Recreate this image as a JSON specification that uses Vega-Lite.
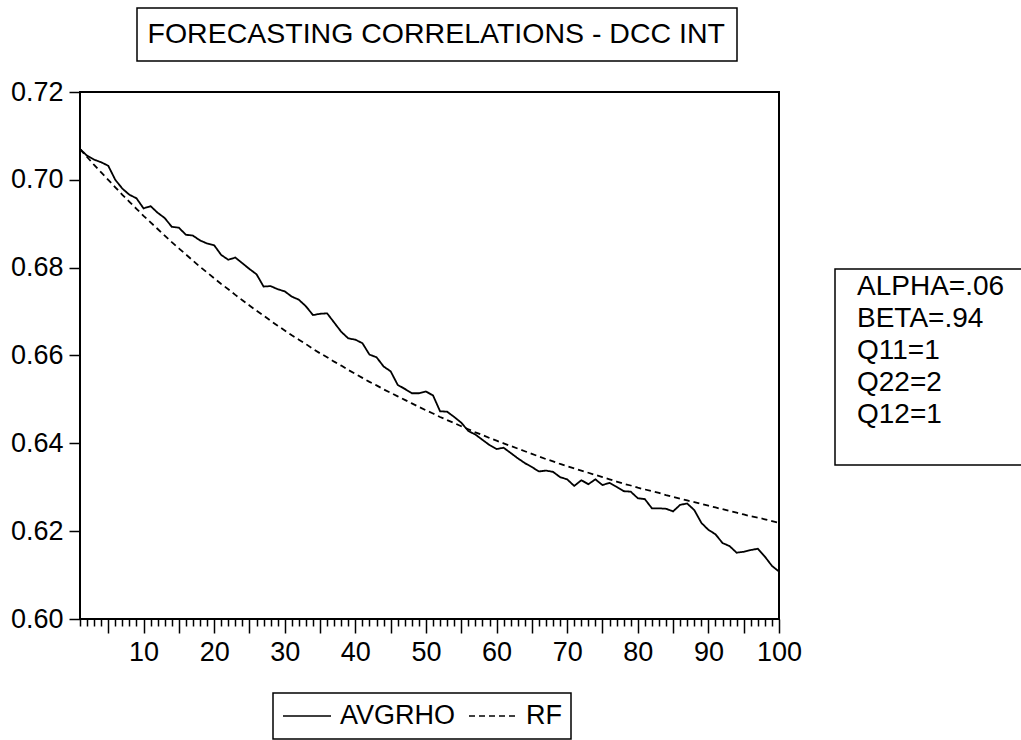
{
  "$schema": "https://vega.github.io/schema/vega-lite/v6.json",
  "width": 699,
  "height": 527,
  "autosize": "none",
  "padding": {"left": 80, "top": 92, "right": 242, "bottom": 121},
  "background": "white",
  "config": {
    "view": {"stroke": "black", "strokeWidth": 2},
    "axis": {"domain": false, "grid": false, "tickColor": "black", "labelColor": "black", "labelFont": "Liberation Sans", "labelFontSize": 27, "tickWidth": 1.5, "title": null, "labelFlush": false, "labelOverlap": false},
    "legend": {"labelFont": "Liberation Sans", "labelFontSize": 27, "strokeColor": "black", "strokeWidth": 1.5, "fillColor": "white", "title": null}
  },
  "layer": [
    {
      "data": {"values": [
        {"t":1,"AVGRHO":0.7070,"RF":0.7070},{"t":2,"AVGRHO":0.7055,"RF":0.7052},{"t":3,"AVGRHO":0.7046,"RF":0.7034},{"t":4,"AVGRHO":0.7040,"RF":0.7017},{"t":5,"AVGRHO":0.7032,"RF":0.7000},
        {"t":6,"AVGRHO":0.7000,"RF":0.6983},{"t":7,"AVGRHO":0.6980,"RF":0.6966},{"t":8,"AVGRHO":0.6966,"RF":0.6950},{"t":9,"AVGRHO":0.6958,"RF":0.6934},{"t":10,"AVGRHO":0.6935,"RF":0.6918},
        {"t":11,"AVGRHO":0.6940,"RF":0.6903},{"t":12,"AVGRHO":0.6925,"RF":0.6888},{"t":13,"AVGRHO":0.6913,"RF":0.6873},{"t":14,"AVGRHO":0.6893,"RF":0.6858},{"t":15,"AVGRHO":0.6891,"RF":0.6844},
        {"t":16,"AVGRHO":0.6875,"RF":0.6830},{"t":17,"AVGRHO":0.6873,"RF":0.6816},{"t":18,"AVGRHO":0.6862,"RF":0.6802},{"t":19,"AVGRHO":0.6855,"RF":0.6789},{"t":20,"AVGRHO":0.6851,"RF":0.6776},
        {"t":21,"AVGRHO":0.6829,"RF":0.6763},{"t":22,"AVGRHO":0.6818,"RF":0.6751},{"t":23,"AVGRHO":0.6823,"RF":0.6738},{"t":24,"AVGRHO":0.6810,"RF":0.6726},{"t":25,"AVGRHO":0.6797,"RF":0.6714},
        {"t":26,"AVGRHO":0.6785,"RF":0.6702},{"t":27,"AVGRHO":0.6757,"RF":0.6691},{"t":28,"AVGRHO":0.6758,"RF":0.6679},{"t":29,"AVGRHO":0.6751,"RF":0.6668},{"t":30,"AVGRHO":0.6746,"RF":0.6657},
        {"t":31,"AVGRHO":0.6734,"RF":0.6646},{"t":32,"AVGRHO":0.6727,"RF":0.6636},{"t":33,"AVGRHO":0.6712,"RF":0.6626},{"t":34,"AVGRHO":0.6692,"RF":0.6615},{"t":35,"AVGRHO":0.6695,"RF":0.6605},
        {"t":36,"AVGRHO":0.6696,"RF":0.6596},{"t":37,"AVGRHO":0.6675,"RF":0.6586},{"t":38,"AVGRHO":0.6654,"RF":0.6577},{"t":39,"AVGRHO":0.6639,"RF":0.6567},{"t":40,"AVGRHO":0.6636,"RF":0.6558},
        {"t":41,"AVGRHO":0.6628,"RF":0.6549},{"t":42,"AVGRHO":0.6602,"RF":0.6540},{"t":43,"AVGRHO":0.6596,"RF":0.6532},{"t":44,"AVGRHO":0.6575,"RF":0.6523},{"t":45,"AVGRHO":0.6564,"RF":0.6515},
        {"t":46,"AVGRHO":0.6533,"RF":0.6507},{"t":47,"AVGRHO":0.6524,"RF":0.6499},{"t":48,"AVGRHO":0.6514,"RF":0.6491},{"t":49,"AVGRHO":0.6514,"RF":0.6483},{"t":50,"AVGRHO":0.6518,"RF":0.6475},
        {"t":51,"AVGRHO":0.6509,"RF":0.6468},{"t":52,"AVGRHO":0.6473,"RF":0.6460},{"t":53,"AVGRHO":0.6472,"RF":0.6453},{"t":54,"AVGRHO":0.6460,"RF":0.6446},{"t":55,"AVGRHO":0.6447,"RF":0.6439},
        {"t":56,"AVGRHO":0.6428,"RF":0.6432},{"t":57,"AVGRHO":0.6420,"RF":0.6425},{"t":58,"AVGRHO":0.6408,"RF":0.6419},{"t":59,"AVGRHO":0.6396,"RF":0.6412},{"t":60,"AVGRHO":0.6387,"RF":0.6406},
        {"t":61,"AVGRHO":0.6390,"RF":0.6400},{"t":62,"AVGRHO":0.6378,"RF":0.6394},{"t":63,"AVGRHO":0.6366,"RF":0.6388},{"t":64,"AVGRHO":0.6355,"RF":0.6382},{"t":65,"AVGRHO":0.6346,"RF":0.6376},
        {"t":66,"AVGRHO":0.6336,"RF":0.6370},{"t":67,"AVGRHO":0.6338,"RF":0.6364},{"t":68,"AVGRHO":0.6335,"RF":0.6359},{"t":69,"AVGRHO":0.6323,"RF":0.6353},{"t":70,"AVGRHO":0.6318,"RF":0.6348},
        {"t":71,"AVGRHO":0.6303,"RF":0.6343},{"t":72,"AVGRHO":0.6316,"RF":0.6338},{"t":73,"AVGRHO":0.6307,"RF":0.6333},{"t":74,"AVGRHO":0.6318,"RF":0.6328},{"t":75,"AVGRHO":0.6305,"RF":0.6323},
        {"t":76,"AVGRHO":0.6310,"RF":0.6318},{"t":77,"AVGRHO":0.6301,"RF":0.6313},{"t":78,"AVGRHO":0.6291,"RF":0.6308},{"t":79,"AVGRHO":0.6290,"RF":0.6304},{"t":80,"AVGRHO":0.6275,"RF":0.6299},
        {"t":81,"AVGRHO":0.6273,"RF":0.6295},{"t":82,"AVGRHO":0.6252,"RF":0.6291},{"t":83,"AVGRHO":0.6252,"RF":0.6287},{"t":84,"AVGRHO":0.6251,"RF":0.6282},{"t":85,"AVGRHO":0.6245,"RF":0.6278},
        {"t":86,"AVGRHO":0.6260,"RF":0.6274},{"t":87,"AVGRHO":0.6263,"RF":0.6270},{"t":88,"AVGRHO":0.6248,"RF":0.6266},{"t":89,"AVGRHO":0.6219,"RF":0.6262},{"t":90,"AVGRHO":0.6203,"RF":0.6258},
        {"t":91,"AVGRHO":0.6193,"RF":0.6254},{"t":92,"AVGRHO":0.6173,"RF":0.6250},{"t":93,"AVGRHO":0.6166,"RF":0.6246},{"t":94,"AVGRHO":0.6151,"RF":0.6242},{"t":95,"AVGRHO":0.6153,"RF":0.6238},
        {"t":96,"AVGRHO":0.6157,"RF":0.6234},{"t":97,"AVGRHO":0.6160,"RF":0.6231},{"t":98,"AVGRHO":0.6142,"RF":0.6227},{"t":99,"AVGRHO":0.6121,"RF":0.6223},{"t":100,"AVGRHO":0.6108,"RF":0.6219}
      ]},
      "transform": [{"fold": ["AVGRHO", "RF"], "as": ["series", "value"]}],
      "mark": {"type": "line", "color": "black", "strokeWidth": 1.8, "clip": true},
      "encoding": {
        "x": {"field": "t", "type": "quantitative",
              "scale": {"domain": [1, 100], "nice": false, "zero": false},
              "axis": {"values": [1,2,3,4,5,6,7,8,9,10,11,12,13,14,15,16,17,18,19,20,21,22,23,24,25,26,27,28,29,30,31,32,33,34,35,36,37,38,39,40,41,42,43,44,45,46,47,48,49,50,51,52,53,54,55,56,57,58,59,60,61,62,63,64,65,66,67,68,69,70,71,72,73,74,75,76,77,78,79,80,81,82,83,84,85,86,87,88,89,90,91,92,93,94,95,96,97,98,99,100],
                       "labelExpr": "datum.value % 10 === 0 ? datum.label : ''",
                       "tickSize": {"condition": {"test": "datum.value % 5 === 0", "value": 14}, "value": 7},
                       "labelPadding": 6}},
        "y": {"field": "value", "type": "quantitative",
              "scale": {"domain": [0.6, 0.72], "nice": false, "zero": false},
              "axis": {"values": [0.6, 0.62, 0.64, 0.66, 0.68, 0.7, 0.72], "format": ".2f", "tickSize": 11, "labelPadding": 6}},
        "strokeDash": {"field": "series", "type": "nominal",
                       "scale": {"domain": ["AVGRHO", "RF"], "range": [[1, 0], [6, 4]]},
                       "legend": {"orient": "none", "legendX": 193, "legendY": 601, "direction": "horizontal",
                                  "symbolType": "stroke", "symbolSize": 2304, "symbolStrokeColor": "black", "symbolStrokeWidth": 1.5,
                                  "labelOffset": 8, "columnPadding": 12, "padding": 9, "clipHeight": 28, "labelColor": "black"}}
      }
    },
    {
      "data": {"values": [{"param": "ALPHA=.06"}, {"param": "BETA=.94"}, {"param": "Q11=1"}, {"param": "Q22=2"}, {"param": "Q12=1"}, {"param": "WWWWWWWWWWWW"}]},
      "mark": {"type": "point", "opacity": 0},
      "encoding": {
        "shape": {"field": "param", "type": "nominal",
                  "scale": {"domain": ["ALPHA=.06", "BETA=.94", "Q11=1", "Q22=2", "Q12=1", "WWWWWWWWWWWW"]},
                  "legend": {"orient": "none", "legendX": 755, "legendY": 177, "direction": "vertical",
                             "symbolSize": 0, "symbolOpacity": 0, "labelOffset": -10, "padding": 4, "rowPadding": 4, "labelLimit": 600, "labelFontSize": 28,
                             "labelColor": {"expr": "datum.value == 'WWWWWWWWWWWW' ? 'white' : 'black'"},
                             "encode": {"labels": {"update": {"fillOpacity": {"signal": "datum.value == 'WWWWWWWWWWWW' ? 0 : 1"}}}}}}
      }
    },
    {
      "data": {"values": [{"ttl": "FORECASTING CORRELATIONS - DCC INT"}]},
      "mark": {"type": "point", "opacity": 0},
      "encoding": {
        "color": {"field": "ttl", "type": "nominal",
                  "legend": {"orient": "none", "legendX": 57, "legendY": -84, "direction": "vertical",
                             "symbolSize": 0, "symbolOpacity": 0, "labelOffset": -30, "padding": 12, "labelLimit": 800, "labelFontSize": 28.5, "labelColor": "black"}}
      }
    }
  ]
}
